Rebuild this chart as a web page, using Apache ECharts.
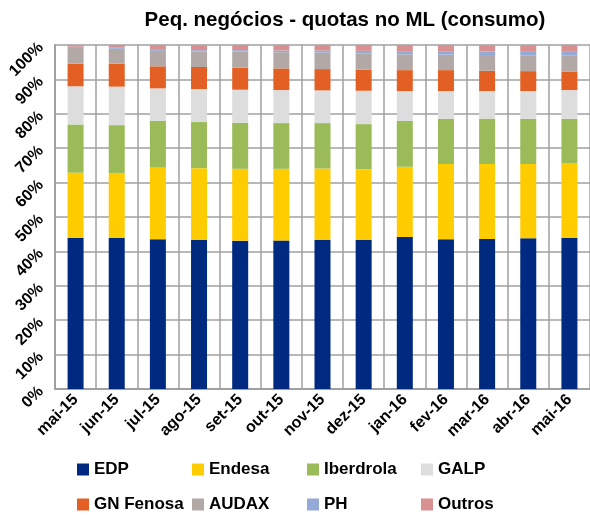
<!DOCTYPE html>
<html>
<head>
<meta charset="utf-8">
<script src="https://cdn.jsdelivr.net/npm/echarts@6/dist/echarts.min.js"></script>
<style>
html,body{margin:0;padding:0;background:#fff;}
#chart{width:590px;height:515px;}
</style>
</head>
<body>
<div id="chart"></div>
<script>
var categories = ['mai-15','jun-15','jul-15','ago-15','set-15','out-15','nov-15','dez-15','jan-16','fev-16','mar-16','abr-16','mai-16'];
var edp       = [43.9, 43.9, 43.5, 43.3, 43.1, 43.2, 43.4, 43.4, 44.2, 43.5, 43.6, 43.8, 43.9];
var endesa    = [19.0, 18.9, 21.0, 20.9, 20.9, 20.8, 20.7, 20.5, 20.4, 21.9, 21.8, 21.6, 21.7];
var iberdrola = [14.0, 13.9, 13.5, 13.4, 13.4, 13.3, 13.2, 13.1, 13.3, 13.1, 13.2, 13.1, 12.9];
var galp      = [11.1, 11.2,  9.4,  9.6,  9.6,  9.6,  9.5,  9.7,  8.7,  8.1,  8.0,  8.1,  8.4];
var gnFenosa  = [ 6.6,  6.7,  6.4,  6.4,  6.4,  6.3,  6.2,  6.1,  6.1,  6.1,  5.9,  5.8,  5.3];
var audax     = [ 4.8,  4.3,  4.5,  4.5,  4.7,  4.7,  4.8,  4.7,  4.6,  4.5,  4.6,  4.6,  4.7];
var ph        = [ 0.1,  0.3,  0.5,  0.4,  0.4,  0.5,  0.6,  0.8,  0.9,  1.0,  1.0,  1.2,  1.1];
var outros    = [ 0.5,  0.8,  1.2,  1.5,  1.5,  1.6,  1.6,  1.7,  1.8,  1.8,  1.9,  1.8,  2.0];
var yTicks = [0,10,20,30,40,50,60,70,80,90,100];

var seriesDefs = [
  {name:'EDP', data:edp, color:'#002A80'},
  {name:'Endesa', data:endesa, color:'#FFCC00'},
  {name:'Iberdrola', data:iberdrola, color:'#9BBB59'},
  {name:'GALP', data:galp, color:'#DDDDDD'},
  {name:'GN Fenosa', data:gnFenosa, color:'#E26023'},
  {name:'AUDAX', data:audax, color:'#B2A9A6'},
  {name:'PH', data:ph, color:'#93A9D6'},
  {name:'Outros', data:outros, color:'#D89090'}
];

var font = '"Liberation Sans", Arial, sans-serif';
var legendPos = [
  [77, 461], [192, 461], [307, 461], [421, 461],
  [77, 496], [192, 496], [307, 496], [421, 496]
];

var legends = seriesDefs.map(function(s, i){
  return {
    data:[s.name], left:legendPos[i][0], top:legendPos[i][1],
    icon:'rect', itemWidth:12, itemHeight:12, itemGap:0,
    padding:0,
    textStyle:{fontFamily:font, fontWeight:'bold', fontSize:17, color:'#000', padding:[0,0,0,0]}
  };
});

var chart = echarts.init(document.getElementById('chart'), null, {renderer:'canvas'});
chart.setOption({
  animation:false,
  backgroundColor:'#fff',
  title:{
    text:'Peq. negócios - quotas no ML (consumo)',
    left:340, top:5, textAlign:'center',
    textStyle:{fontFamily:font, fontWeight:'bold', fontSize:20.5, color:'#000'}
  },
  legend:legends,
  grid:{left:55, top:45, right:0, bottom:126},
  xAxis:{
    type:'category', data:categories,
    axisLine:{lineStyle:{color:'#A0A0A0', width:2}},
    axisTick:{show:false},
    splitLine:{show:true, interval:0, lineStyle:{color:'#A0A0A0', width:1.5}},
    axisLabel:{interval:0, rotate:45, margin:8, fontFamily:font, fontWeight:'bold', fontSize:16, color:'#000'}
  },
  yAxis:{
    type:'value', min:0, max:100, interval:10,
    axisLine:{show:true, lineStyle:{color:'#A0A0A0', width:2}},
    axisTick:{show:false},
    splitLine:{lineStyle:{color:'#A0A0A0', width:1.5}},
    axisLabel:{rotate:45, margin:14, fontFamily:font, fontWeight:'bold', fontSize:16, color:'#000',
      formatter:function(v){ return yTicks.indexOf(v) >= 0 ? v + '%' : ''; }}
  },
  series:seriesDefs.map(function(s){
    return {
      name:s.name, type:'bar', stack:'total', data:s.data, barWidth:16,
      itemStyle:{color:s.color}
    };
  })
});
</script>
</body>
</html>
